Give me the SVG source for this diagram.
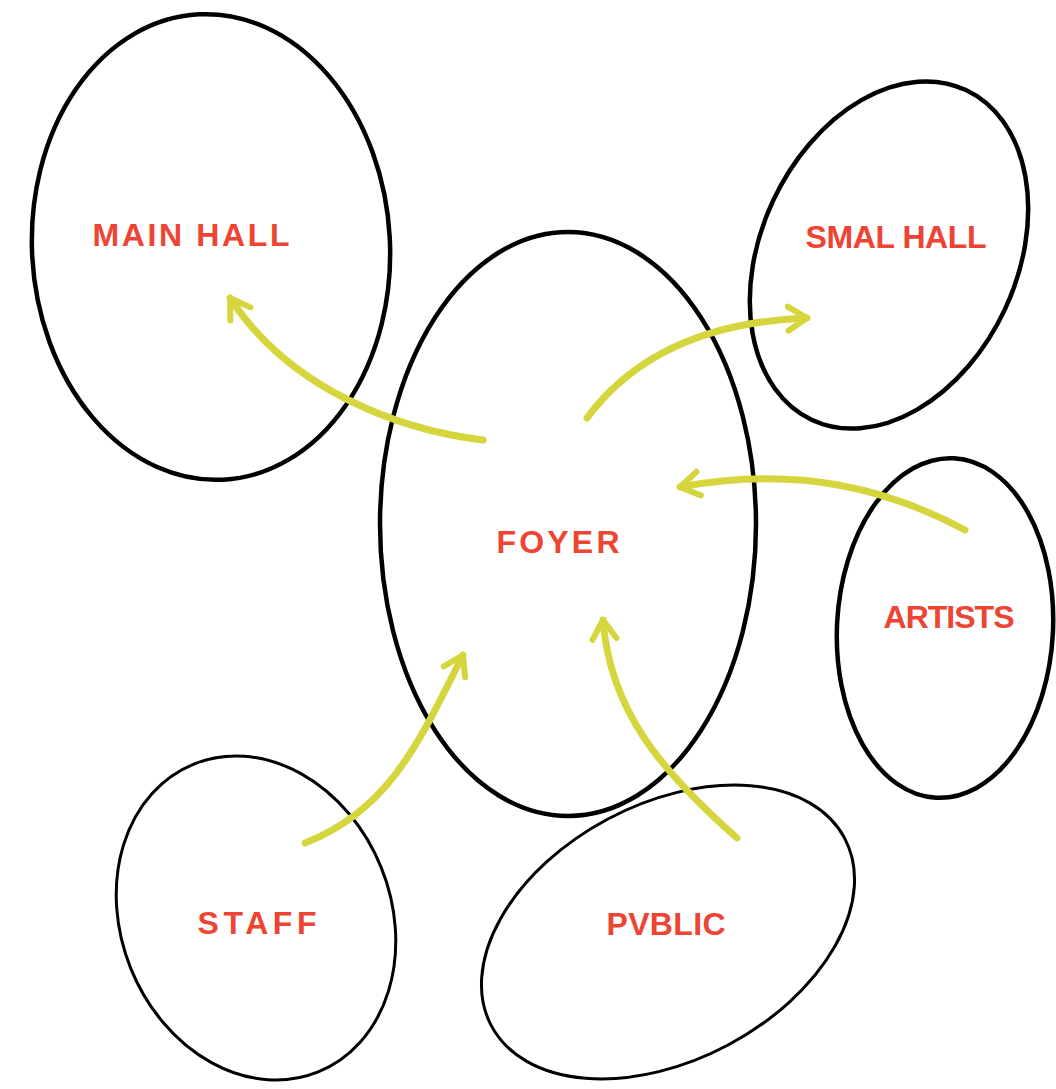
<svg xmlns="http://www.w3.org/2000/svg" width="1056" height="1089" viewBox="0 0 1056 1089">
<style>
.node{fill:none;stroke:#000;stroke-width:4.5}
.thin{stroke-width:3}
.lbl{font-family:"Liberation Sans","DejaVu Sans",sans-serif;font-size:32px;font-weight:bold;fill:#ee4433;text-anchor:middle}
.arr{fill:none;stroke:#d5d63d;stroke-width:7;stroke-linecap:round;stroke-linejoin:round}
</style>
<defs>
<marker id="ah" viewBox="-22 -16 27 32" refX="0" refY="0" markerWidth="27" markerHeight="32" markerUnits="userSpaceOnUse" orient="auto">
<path d="M-19,-12 L0,0 L-19,12" fill="none" stroke="#d5d63d" stroke-width="6" stroke-linecap="round" stroke-linejoin="round"/>
</marker>
</defs>
<rect width="1056" height="1089" fill="#fff"/>
<g id="main-hall"><ellipse class="node" cx="211" cy="247" rx="179" ry="233" transform="rotate(-3 211 247)"/><text class="lbl" x="191" y="246" textLength="197" lengthAdjust="spacing">MAIN HALL</text></g>
<g id="small-hall"><ellipse class="node" cx="889" cy="255" rx="128" ry="182" transform="rotate(25 889 255)"/><text class="lbl" x="896" y="248" textLength="181" lengthAdjust="spacing">SMAL HALL</text></g>
<g id="foyer"><ellipse class="node" cx="568" cy="524" rx="188" ry="292"/><text class="lbl" x="558" y="553" textLength="123" lengthAdjust="spacing">FOYER</text></g>
<g id="artists"><ellipse class="node" cx="945" cy="628" rx="108" ry="170" transform="rotate(3 945 628)"/><text class="lbl" x="949" y="628" textLength="131" lengthAdjust="spacing">ARTISTS</text></g>
<g id="staff"><ellipse class="node thin" cx="256" cy="918" rx="135" ry="166" transform="rotate(-22 256 918)"/><text class="lbl" x="257" y="934" textLength="119" lengthAdjust="spacing">STAFF</text></g>
<g id="public"><ellipse class="node thin" cx="668" cy="932" rx="200" ry="128" transform="rotate(-28 668 932)"/><text class="lbl" x="666" y="935" textLength="119" lengthAdjust="spacing">PVBLIC</text></g>
<g id="connectors">
<path class="arr" marker-end="url(#ah)" d="M483,440 C400,430 290,390 230,298"/>
<path class="arr" marker-end="url(#ah)" d="M587,418 C630,360 700,322 807,318"/>
<path class="arr" marker-end="url(#ah)" d="M965,530 C890,490 800,465 680,487"/>
<path class="arr" marker-end="url(#ah)" d="M305,843 C390,810 420,740 463,655"/>
<path class="arr" marker-end="url(#ah)" d="M737,838 C660,770 610,710 603,620"/>
</g>
</svg>
